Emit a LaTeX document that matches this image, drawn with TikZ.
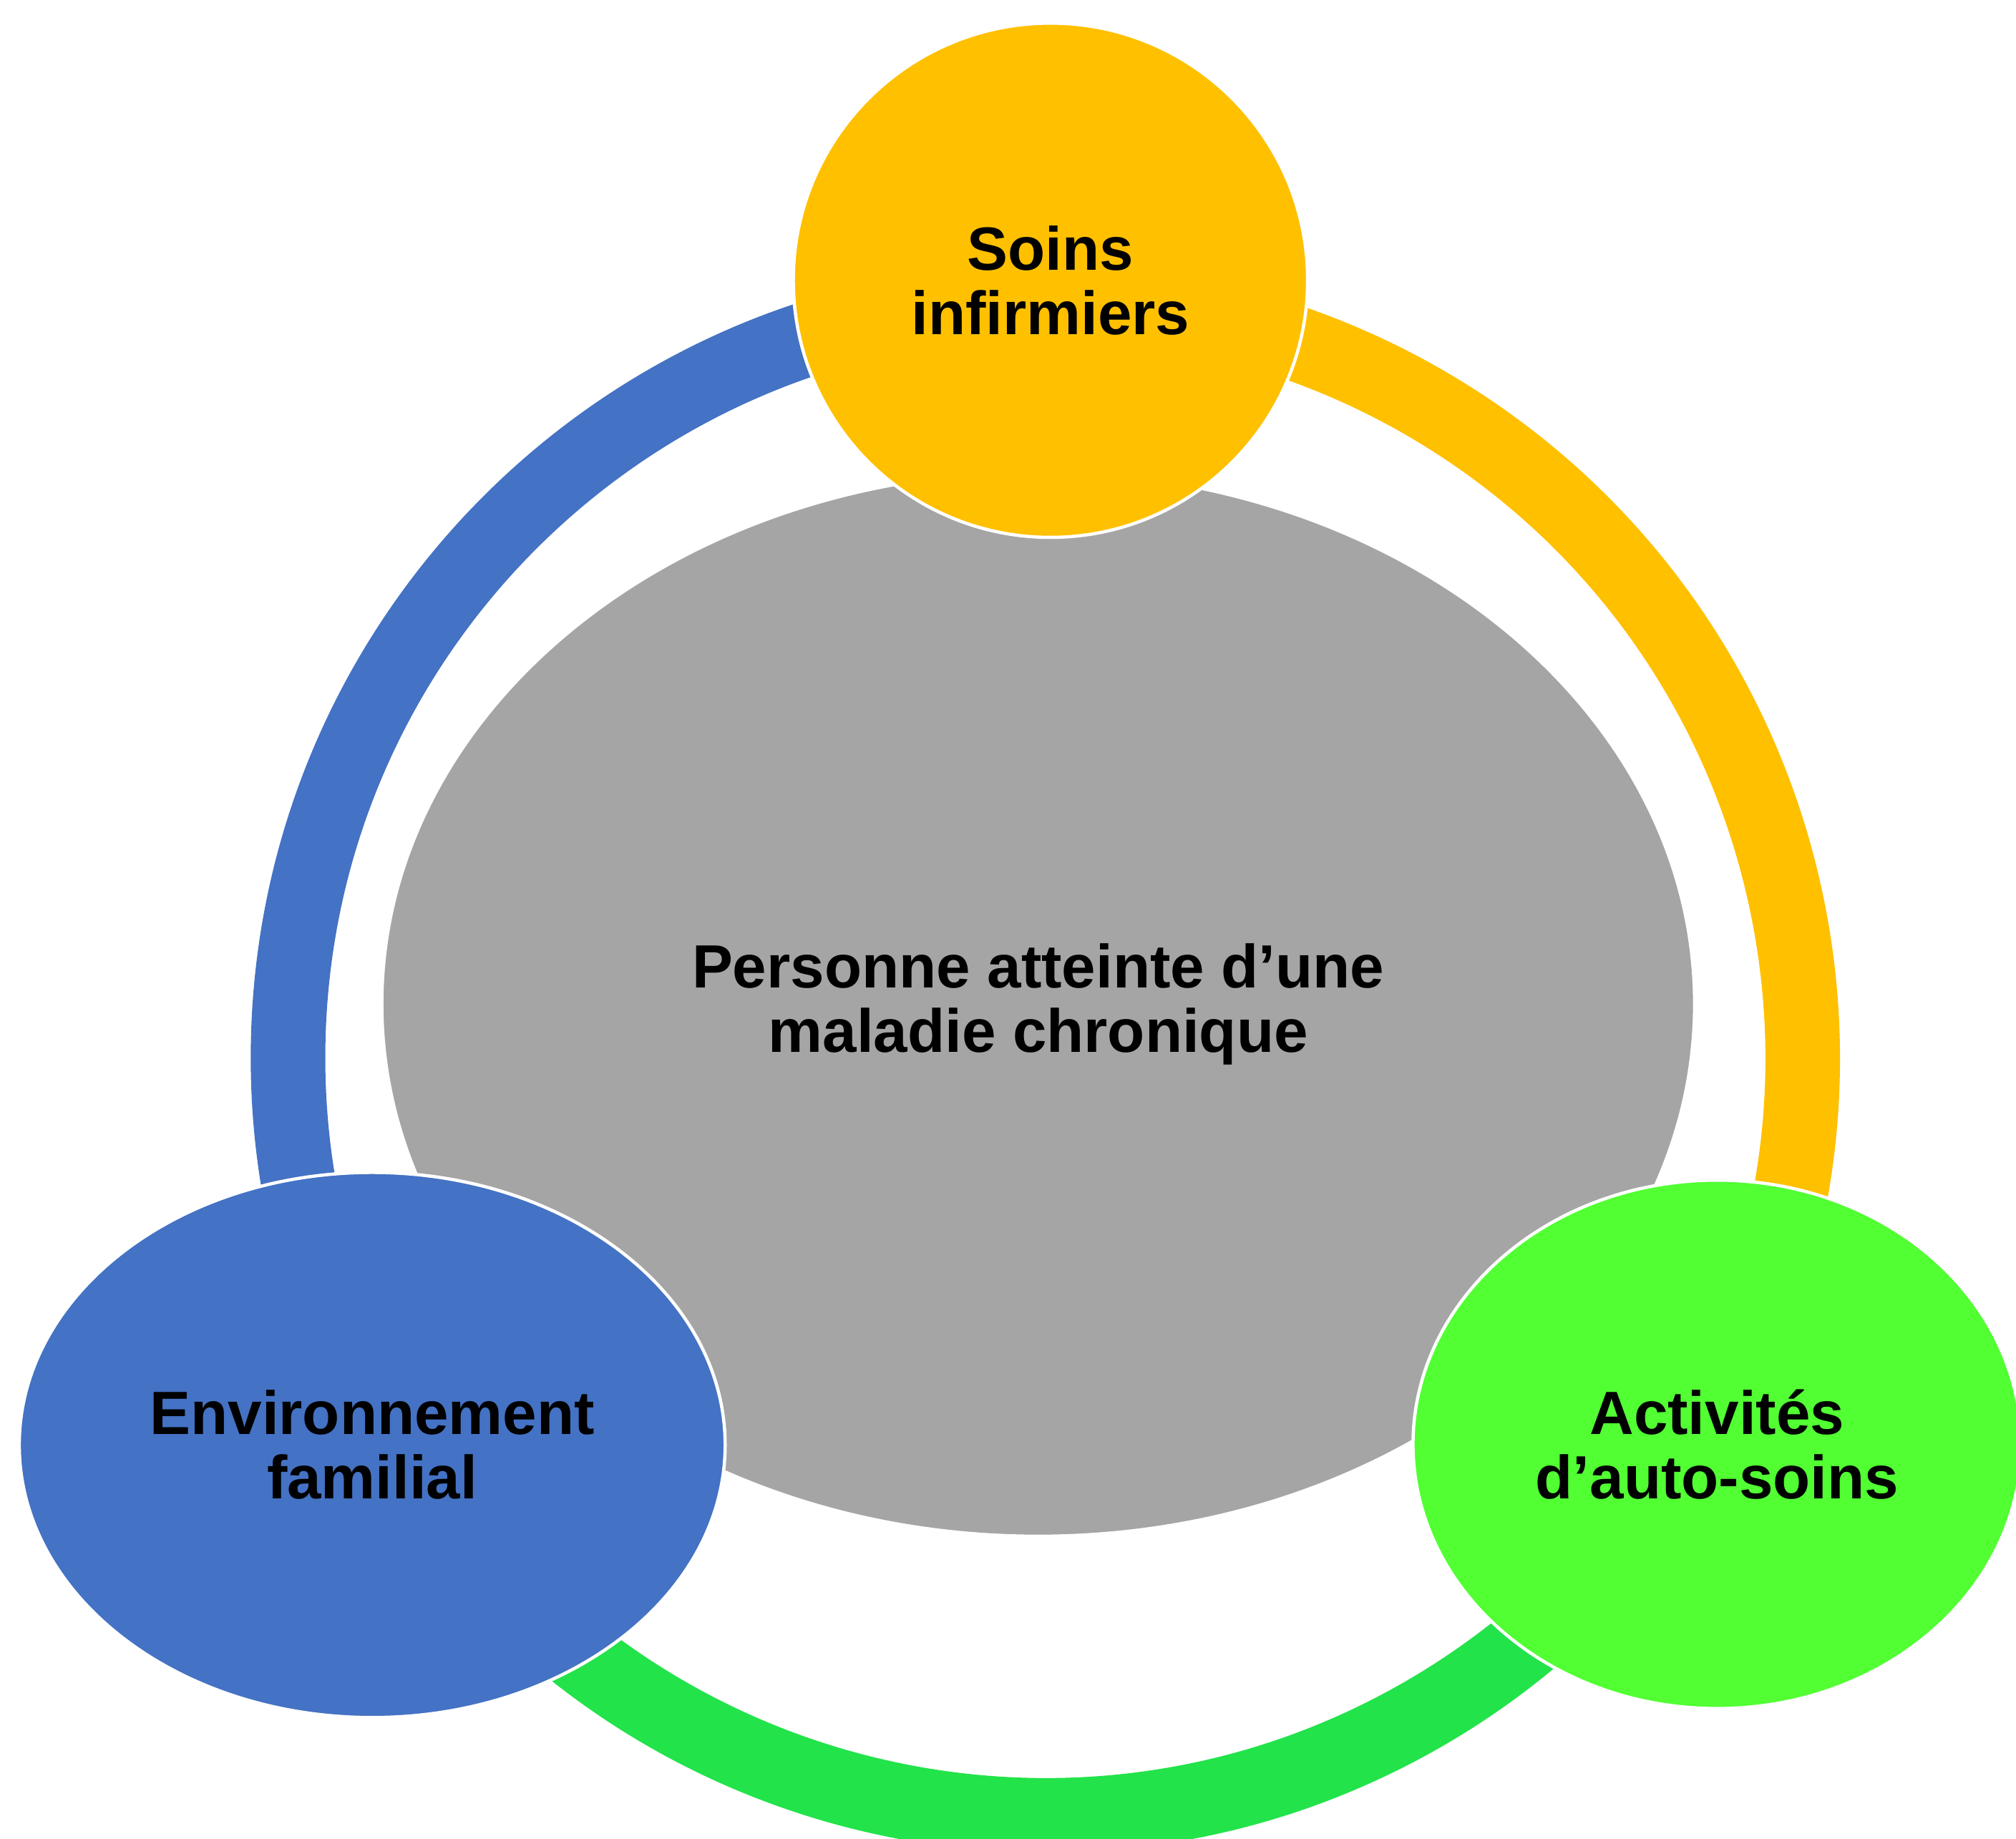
\documentclass[tikz,border=0pt]{standalone}
\usepackage{fontspec}
\setmainfont{Liberation Sans}
\usetikzlibrary{shapes.geometric}
\definecolor{cblue}{HTML}{4472C4}
\definecolor{cyellow}{HTML}{FFC000}
\definecolor{cgray}{HTML}{A5A5A5}
\definecolor{cgreen}{HTML}{51FF33}
\definecolor{cgreenring}{HTML}{22E34A}
\tikzset{
  lbl/.style={font=\fontsize{47.5}{50}\selectfont\bfseries, align=center, text=black},
  blob/.style={draw=white, line width=2.5, inner sep=0pt, lbl},
  ringseg/.style={line width=58, line cap=butt}
}
\begin{document}
\begin{tikzpicture}[x=1pt,y=-1pt]
\useasboundingbox (0,0) rectangle (1568,1430);
\clip (0,0) rectangle (1568,1430);
\fill[white] (0,0) rectangle (1568,1430);
\coordinate (rc) at (813,823);
% ring segments (page angles negated because y points down)
\draw[ringseg, cblue] (rc) ++(-90:589) arc[start angle=-90, end angle=-210, radius=589];
\draw[ringseg, cgreenring] (rc) ++(-210:589) arc[start angle=-210, end angle=-330, radius=589];
\draw[ringseg, cyellow] (rc) ++(-330:589) arc[start angle=-330, end angle=-450, radius=589];
% nodes
\node[blob, ellipse, fill=cgray, minimum width=1021, minimum height=828] (person) at (807.5,781) {Personne atteinte d’une\\maladie chronique};
\node[blob, circle, fill=cyellow, minimum size=400] (soins) at (817,218) {Soins\\infirmiers};
\node[blob, ellipse, fill=cblue, minimum width=549, minimum height=424] (env) at (289.5,1124) {Environnement\\familial};
\node[blob, ellipse, fill=cgreen, minimum width=473, minimum height=411] (act) at (1335.5,1123.5) {Activités\\d’auto-soins};
\end{tikzpicture}
\end{document}
